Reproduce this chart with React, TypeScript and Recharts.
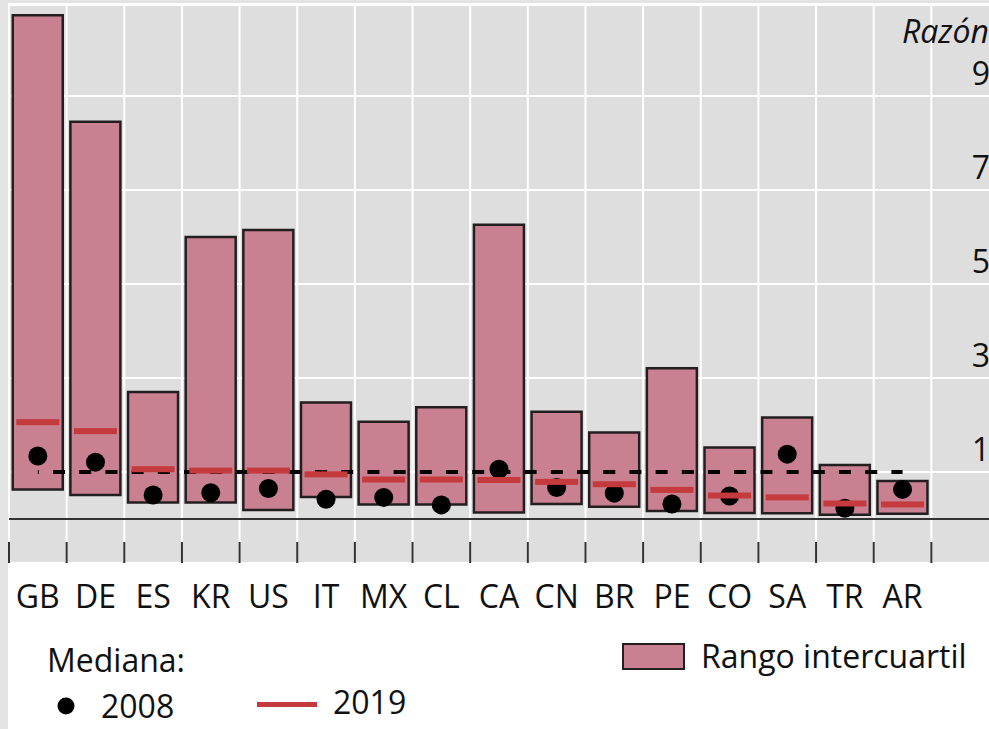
import React from 'react';
import { ComposedChart, Bar, Scatter, XAxis, YAxis, CartesianGrid, ReferenceLine } from 'recharts';

// Ratio by country: interquartile range, medians 2008 and 2019
const countries = ['GB', 'DE', 'ES', 'KR', 'US', 'IT', 'MX', 'CL', 'CA', 'CN', 'BR', 'PE', 'CO', 'SA', 'TR', 'AR'];
const q1 = [0.63, 0.51, 0.35, 0.35, 0.19, 0.47, 0.31, 0.31, 0.14, 0.32, 0.26, 0.17, 0.13, 0.12, 0.09, 0.11];
const q3 = [10.72, 8.45, 2.7, 6.0, 6.15, 2.48, 2.07, 2.38, 6.26, 2.28, 1.84, 3.21, 1.52, 2.16, 1.15, 0.81];
const median2008 = [1.34, 1.21, 0.51, 0.56, 0.65, 0.42, 0.46, 0.3, 1.06, 0.67, 0.55, 0.32, 0.49, 1.38, 0.23, 0.63];
const median2019 = [2.06, 1.87, 1.06, 1.03, 1.03, 0.95, 0.84, 0.84, 0.83, 0.79, 0.74, 0.62, 0.5, 0.46, 0.33, 0.31];
const yTicks = [1, 3, 5, 7, 9];

const W = 989;
const H = 729;
const MARGIN = { top: 5, right: 0, bottom: 0, left: 9 };
// 16 countries plus one empty slot on the right that holds the axis labels
const SLOTS = countries.length + 1;
const BAND = (W - MARGIN.left - MARGIN.right) / SLOTS;

const FONT = '"Open Sans", sans-serif';
const FS = 32;
const TEXT = '#111';
const PINK = '#c98090';
const RED = '#c43a3d';
const EDGE = '#231f20';

const data = [
  ...countries.map((name, i) => ({
    name,
    range: [q1[i], q3[i]],
    m2008: median2008[i],
    m2019: median2019[i],
  })),
  { name: ' ' },
];

// label in the middle of the slot, tick mark on its left edge
const CountryTick = (props: any) => {
  const { x, y, payload } = props;
  const edge = x - BAND / 2;
  return (
    <g>
      <line x1={edge} x2={edge} y1={y - 21} y2={y} stroke="#333" strokeWidth={2} />
      <text x={x} y={y + 45} textAnchor="middle" fontSize={FS} fontFamily={FONT} fill={TEXT}>
        {payload.value}
      </text>
    </g>
  );
};

const RatioTick = (props: any) => {
  const { x, y, payload } = props;
  return (
    <text x={x + 1} y={y - 11} textAnchor="end" fontSize={FS} fontFamily={FONT} fill={TEXT}>
      {payload.value}
    </text>
  );
};

const DotShape = (props: any) => {
  if (!Number.isFinite(props.cy)) return <g />;
  return <circle cx={props.cx} cy={props.cy} r={9.5} fill="#000" />;
};

const DashShape = (props: any) => {
  if (!Number.isFinite(props.cy)) return <g />;
  return <rect x={props.cx - 21.5} y={props.cy - 3} width={43} height={6} fill={RED} />;
};

export default function App() {
  return (
    <div style={{ position: 'absolute', left: 0, top: 0, width: W, height: H, background: '#fff', overflow: 'hidden' }}>
      <div style={{ position: 'absolute', left: 0, top: 0, width: 8, height: H, background: '#e4e4e4' }} />
      <div style={{ position: 'absolute', left: 0, top: 0, width: W, height: 3, background: '#e4e4e4' }} />
      <ComposedChart
        width={W}
        height={H}
        data={data}
        margin={MARGIN}
        barCategoryGap="6.5%"
        style={{ position: 'absolute', left: 0, top: 0 }}
      >
        <XAxis
          dataKey="name"
          height={166}
          axisLine={false}
          tickLine={false}
          tickSize={0}
          tickMargin={0}
          interval={0}
          tick={<CountryTick />}
        />
        <YAxis
          orientation="right"
          mirror
          domain={[-0.936, 10.936]}
          ticks={yTicks}
          allowDataOverflow
          axisLine={false}
          tickLine={false}
          tickSize={0}
          tickMargin={0}
          tick={<RatioTick />}
        />
        <CartesianGrid
          fill="#dedede"
          stroke="#fff"
          strokeWidth={2}
          verticalCoordinatesGenerator={({ offset }: any) =>
            data.map((_, i) => offset.left + (i * offset.width) / SLOTS)
          }
        />
        <Bar dataKey="range" fill={PINK} stroke={EDGE} strokeWidth={2.5} isAnimationActive={false} />
        <Scatter dataKey="m2008" shape={<DotShape />} isAnimationActive={false} />
        <Scatter dataKey="m2019" shape={<DashShape />} isAnimationActive={false} />
        <ReferenceLine
          segment={[{ x: 'GB', y: 1 }, { x: 'AR', y: 1 }]}
          stroke="#000"
          strokeWidth={4}
          strokeDasharray="12 14.2"
          strokeDashoffset={11}
        />
        <ReferenceLine y={0} stroke="#333" strokeWidth={2} />
      </ComposedChart>
      <svg width={W} height={H} style={{ position: 'absolute', left: 0, top: 0, pointerEvents: 'none' }}>
        <text x={989} y={43} textAnchor="end" fontSize={FS} fontStyle="italic" fontFamily={FONT} fill={TEXT}>
          Razón
        </text>
        <text x={47} y={672} fontSize={FS} fontFamily={FONT} fill={TEXT}>
          Mediana:
        </text>
        <circle cx={66} cy={706} r={8.5} fill="#000" />
        <text x={101} y={718} fontSize={FS} fontFamily={FONT} fill={TEXT}>
          2008
        </text>
        <rect x={257} y={702} width={60} height={5} fill={RED} />
        <text x={333} y={714} fontSize={FS} fontFamily={FONT} fill={TEXT}>
          2019
        </text>
        <rect x={623} y={644} width={61} height={25} fill={PINK} stroke={EDGE} strokeWidth={2} />
        <text x={701} y={668} fontSize={FS} fontFamily={FONT} fill={TEXT}>
          Rango intercuartil
        </text>
      </svg>
    </div>
  );
}
